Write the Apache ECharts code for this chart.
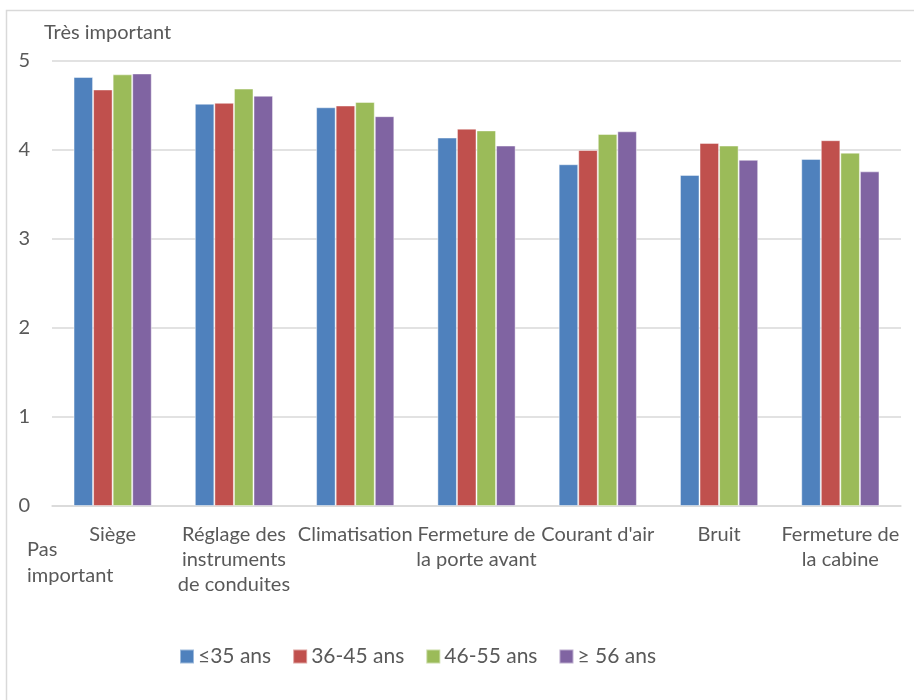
<!DOCTYPE html>
<html>
<head>
<meta charset="utf-8">
<script src="https://cdn.jsdelivr.net/npm/echarts@6/dist/echarts.min.js"></script>
<style>
  html, body { margin: 0; padding: 0; background: #fff; }
  #chart { width: 914px; height: 700px; }
</style>
</head>
<body>
<div id="chart"></div>
<script>
// Critères de confort du poste de conduite, note moyenne par tranche d'âge
const categories = [
  'Siège',
  'Réglage des\ninstruments\nde conduites',
  'Climatisation',
  'Fermeture de\nla porte avant',
  "Courant d'air",
  'Bruit',
  'Fermeture de\nla cabine'
];
const seriesNames = ['≤35 ans', '36-45 ans', '46-55 ans', '≥ 56 ans'];
const age35 = [4.82, 4.52, 4.48, 4.14, 3.84, 3.72, 3.90];
const age36to45 = [4.68, 4.53, 4.50, 4.24, 4.00, 4.08, 4.11];
const age46to55 = [4.85, 4.69, 4.54, 4.22, 4.18, 4.05, 3.97];
const age56 = [4.86, 4.61, 4.38, 4.05, 4.21, 3.89, 3.76];
const colors = ['#4F81BD', '#C0504D', '#9BBB59', '#8064A2'];

const font = 'Lato, "Open Sans", sans-serif';
const textColor = '#595959';
const gridColor = '#d9d9d9';

const chart = echarts.init(document.getElementById('chart'), null, { renderer: 'canvas' });

const values = [age35, age36to45, age46to55, age56];
const series = values.map((data, i) => ({
  name: seriesNames[i],
  type: 'bar',
  data: data,
  barGap: '0%',
  barCategoryGap: '35.5%',
  itemStyle: { color: colors[i], borderColor: 'rgba(255,255,255,0.45)', borderWidth: 1 },
  emphasis: { disabled: true }
}));

chart.setOption({
  animation: false,
  color: colors,
  textStyle: { fontFamily: font, color: textColor },
  grid: { left: 52, right: 13, top: 61, bottom: 194, containLabel: false },
  legend: {
    data: seriesNames,
    bottom: 28,
    left: 174,
    itemWidth: 14,
    itemHeight: 14,
    itemGap: 21,
    icon: 'rect',
    textStyle: { fontFamily: font, fontSize: 21, color: textColor, padding: [0, 0, 0, -1] }
  },
  xAxis: {
    type: 'category',
    data: categories,
    axisLine: { show: true, lineStyle: { color: gridColor, width: 1.5 } },
    axisTick: { show: false },
    axisLabel: {
      interval: 0,
      margin: 16,
      fontFamily: font,
      fontSize: 20,
      lineHeight: 25,
      color: textColor
    }
  },
  yAxis: {
    type: 'value',
    min: 0,
    max: 5,
    interval: 1,
    axisLine: { show: false },
    axisTick: { show: false },
    splitLine: { lineStyle: { color: gridColor, width: 1.5 } },
    axisLabel: { margin: 22, fontFamily: font, fontSize: 20, color: textColor }
  },
  graphic: [
    {
      type: 'rect',
      silent: true,
      shape: { x: 6.5, y: 10.5, width: 1000, height: 1000 },
      style: { fill: 'none', stroke: gridColor, lineWidth: 1.5 },
      z: -10
    },
    {
      type: 'text',
      left: 44,
      top: 23,
      style: { text: 'Très important', fontFamily: font, fontSize: 20, fill: textColor }
    },
    {
      type: 'text',
      left: 27,
      top: 537,
      style: { text: 'Pas\nimportant', fontFamily: font, fontSize: 20, lineHeight: 26, fill: textColor }
    }
  ],
  series: series
});
</script>
</body>
</html>
